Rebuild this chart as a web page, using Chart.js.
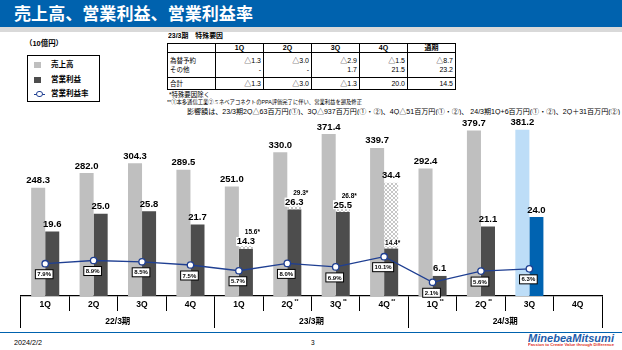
<!DOCTYPE html>
<html><head><meta charset="utf-8">
<script src="https://cdn.jsdelivr.net/npm/chart.js@4.4.1/dist/chart.umd.min.js"></script>
<style>
html,body{margin:0;padding:0;width:622px;height:350px;overflow:hidden;background:#fff;font-family:"Liberation Sans","Noto Sans CJK JP",sans-serif;color:#000;}
#wrap{position:relative;width:622px;height:350px;}
.t{position:absolute;white-space:nowrap;transform-origin:left center;}
#titlebar{position:absolute;left:0;top:0;width:622px;height:27px;background:#0062AE;}
#strip{position:absolute;left:0;top:27px;width:622px;height:5px;background:#D9D9D9;}
#legend{position:absolute;left:26.5px;top:54.5px;width:73px;height:47px;border:1px solid #000;box-sizing:border-box;}
.sw{position:absolute;width:7px;height:6px;}
#tbl{position:absolute;left:167px;top:42.5px;border-collapse:collapse;table-layout:fixed;width:288px;border:1.3px solid #000;font-size:7px;font-family:"Liberation Sans","Noto Sans CJK JP",sans-serif;}
#tbl td{border:1px solid #000;padding:0 2px;overflow:hidden;white-space:nowrap;}
#tbl tr.h td{height:8.6px;line-height:8.6px;text-align:center;font-weight:bold;}
#tbl tr.m td{height:24px;line-height:9px;text-align:right;}
#tbl tr.s td{height:11px;line-height:11px;text-align:right;}
#tbl tr td.lbl{text-align:left;font-size:6.5px;}
#footline{position:absolute;left:0;top:331.5px;width:622px;height:1.6px;background:#0062AE;}
canvas{position:absolute;left:0;top:0;}
</style></head>
<body><div id="wrap">
<div id="titlebar"></div>
<div class="t" style="left:14px;top:0;height:27px;line-height:27px;color:#fff;font:bold 17px 'Noto Sans CJK JP';" data-w="239">売上高、営業利益、営業利益率</div>
<div id="strip"></div>
<div class="t" style="left:25px;top:37px;line-height:12px;font-weight:bold;font-size:8.5px;" data-w="38">（10億円）</div>
<div id="legend">
  <div class="sw" style="left:6px;top:6.5px;background:#BFBFBF;"></div>
  <div class="sw" style="left:6px;top:21.5px;background:#4D4D4D;"></div>
  <div style="position:absolute;left:6px;top:38px;width:11px;height:1.5px;background:#1F3F92;"></div>
  <div style="position:absolute;left:8.5px;top:35.3px;width:4.5px;height:4.5px;border:1.3px solid #1F3F92;border-radius:50%;background:#fff;"></div>
  <div class="t" style="left:23.5px;top:4px;line-height:10px;font-size:7.5px;font-weight:bold;">売上高</div>
  <div class="t" style="left:23.5px;top:19px;line-height:10px;font-size:7.5px;font-weight:bold;">営業利益</div>
  <div class="t" style="left:23.5px;top:33.5px;line-height:10px;font-size:7.5px;font-weight:bold;">営業利益率</div>
</div>
<div class="t" style="left:168px;top:31px;line-height:10px;font-size:7px;font-weight:bold;" data-w="55">23/3期　特殊要因</div>
<table id="tbl"></table>
<div class="t" style="left:169px;top:90px;line-height:10px;font-size:11px;" data-w="41">*特殊要因除く</div>
<div class="t" style="left:166.7px;top:96.7px;line-height:10px;font-size:11px;" data-w="195">**①本多通信工業②ミネベアコネクトのPPA評価完了に伴い、営業利益を遡及修正</div>
<div class="t" style="left:186.7px;top:105.7px;line-height:10px;font-size:11px;" data-w="433">影響額は、23/3期2Q△63百万円(①)、3Q△937百万円(①・②)、4Q△51百万円(①・②)、 24/3期1Q+6百万円(①・②)、2Q＋31百万円(②)</div>
<div id="footline"></div>
<div class="t" style="left:14px;top:338px;line-height:10px;font-size:12px;" data-w="28">2024/2/2</div>
<div class="t" style="left:311px;top:338px;line-height:10px;font-size:6.5px;">3</div>
<div class="t" style="left:527.7px;top:332px;line-height:13px;font-size:12px;font-weight:bold;font-style:italic;color:#1D5CAB;" data-w="86">MinebeaMitsumi</div>
<div class="t" style="left:527.7px;top:341px;line-height:8px;font-size:10px;font-weight:bold;color:#E0301E;" data-w="86">Passion to Create Value through Difference</div>
<canvas id="c" width="622" height="350"></canvas>
</div>
<script>
// ---- data ----
const quarters = ['1Q','2Q','3Q','4Q','1Q','2Q','3Q','4Q','1Q','2Q','3Q','4Q'];
const quarterMarks = ['','','','','','**','**','**','**','**','',''];
const fiscalYears = ['22/3期','23/3期','24/3期'];
const sales = [248.3,282.0,304.3,289.5,251.0,330.0,371.4,339.7,292.4,379.7,381.2,null];
const operatingProfit = [19.6,25.0,25.8,21.7,14.3,26.3,25.5,34.4,6.1,21.1,24.0,null];
const opExSpecial = [null,null,null,null,15.6,29.3,26.8,14.4,null,null,null,null];
const opMargin = [7.9,8.9,8.5,7.5,5.7,8.0,6.9,10.1,2.1,5.6,6.3,null];
const tableCols = ['1Q','2Q','3Q','4Q','通期'];
const fxContract = ['△1.3','△3.0','△2.9','△1.5','△8.7'];
const otherItems = ['-','-','1.7','21.5','23.2'];
const specialTotal = ['△1.3','△3.0','△1.3','20.0','14.5'];

// ---- table ----
(function(){
  const t = document.getElementById('tbl');
  let h = '<colgroup>' + '<col style="width:48px">'.repeat(6) + '</colgroup>';
  h += '<tr class="h"><td></td>' + tableCols.map(c=>'<td>'+c+'</td>').join('') + '</tr>';
  h += '<tr class="m"><td class="lbl">為替予約<br>その他</td>' + fxContract.map((v,i)=>'<td>'+v+'<br>'+otherItems[i]+'</td>').join('') + '</tr>';
  h += '<tr class="s"><td class="lbl">合計</td>' + specialTotal.map(v=>'<td>'+v+'</td>').join('') + '</tr>';
  t.innerHTML = h;
})();

function fitTexts(){
  document.querySelectorAll('[data-w]').forEach(el=>{
    el.style.transform='none';
    const w = el.getBoundingClientRect().width;
    if (w>0) el.style.transform = 'scale(' + (+el.dataset.w / w) + ')';
  });
}
fitTexts();
if (document.fonts && document.fonts.ready) document.fonts.ready.then(fitTexts);

// ---- styles ----
const HL = 10;
const salesColors = sales.map((v,i)=> i===HL ? '#BDDDF7' : '#BFBFBF');
const opColors = operatingProfit.map((v,i)=> i===HL ? '#0063B1' : '#4D4D4D');
function hatchPattern(){
  const c=document.createElement('canvas'); c.width=4; c.height=4;
  const g=c.getContext('2d'); g.fillStyle='#fff'; g.fillRect(0,0,4,4);
  g.fillStyle='#c6c6c6';
  for(let i=0;i<4;i++){ g.fillRect(i,i,1,1); g.fillRect(3-i,i,1,1); }
  return g.createPattern(c,'repeat');
}
const opBase = operatingProfit.map((v,i)=> v==null ? null : (opExSpecial[i]==null ? v : Math.min(v, opExSpecial[i])));
const opSpecial = operatingProfit.map((v,i)=> (v==null || opExSpecial[i]==null) ? null : Math.abs(v - opExSpecial[i]));

const FONT = '"Liberation Sans","Noto Sans CJK JP",sans-serif';

const labelPlugin = {
  id:'valueLabels',
  afterDatasetsDraw(chart){
    const ctx = chart.ctx;
    const lMeta = chart.getDatasetMeta(0), sMeta = chart.getDatasetMeta(1), dMeta = chart.getDatasetMeta(2), hMeta = chart.getDatasetMeta(3);
    ctx.save();
    ctx.textAlign='center'; ctx.textBaseline='alphabetic';
    function txt(s, x, y, size, bg){
      ctx.font = 'bold ' + size + 'px ' + FONT;
      if (bg){ const w = ctx.measureText(s).width; ctx.fillStyle='#fff'; ctx.fillRect(x-w/2-0.5, y-size*0.78, w+1, size*0.95); }
      ctx.fillStyle='#000'; ctx.fillText(s, x, y);
    }
    sales.forEach((v,i)=>{ if(v==null) return; const el=sMeta.data[i]; txt(v.toFixed(1), el.x, el.y-4.5, 9.5, false); });
    operatingProfit.forEach((v,i)=>{
      if(v==null) return;
      const d=dMeta.data[i]; const ex=opExSpecial[i];
      if (ex!=null && ex<v){
        const h=hMeta.data[i];
        txt(v.toFixed(1), h.x, h.y-4.5, 9.5, false);
        txt(ex.toFixed(1)+'*', d.x+1.5, d.y-3.5, 6.5, true);
      } else if (ex!=null){
        txt(v.toFixed(1), d.x, d.y-4.5, 9.5, true);
        txt(ex.toFixed(1)+'*', d.x+6.5, d.y-14.5, 6.5, false);
      } else {
        txt(v.toFixed(1), d.x, d.y-4.5, 9.5, false);
      }
    });
    ctx.font = 'bold 6px ' + FONT;
    opMargin.forEach((v,i)=>{
      if(v==null) return;
      const p=lMeta.data[i]; const s=v.toFixed(1)+'%';
      const w=ctx.measureText(s).width+4; const cx=p.x-1, cy=p.y+10.5;
      ctx.fillStyle='#fff'; ctx.fillRect(cx-w/2, cy-4.5, w, 9);
      ctx.strokeStyle='#000'; ctx.lineWidth=1; ctx.strokeRect(cx-w/2, cy-4.5, w, 9);
      ctx.fillStyle='#000'; ctx.textBaseline='middle'; ctx.fillText(s, cx, cy+0.5); ctx.textBaseline='alphabetic';
    });
    ctx.restore();
  },
  afterDraw(chart){
    const sc = chart.scales.x; const ctx = chart.ctx;
    ctx.save();
    quarterMarks.forEach((m,i)=>{
      if(!m) return;
      ctx.font = 'bold 8.5px ' + FONT;
      const w = ctx.measureText(quarters[i]).width;
      const x = sc.getPixelForTick(i) + w/2 + 1.5;
      ctx.font = 'bold 5px ' + FONT; ctx.fillStyle='#000'; ctx.textAlign='left'; ctx.textBaseline='alphabetic';
      ctx.fillText(m, x, 303);
    });
    ctx.restore();
  }
};

new Chart(document.getElementById('c'), {
  data: {
    labels: quarters,
    datasets: [
      { type:'line', label:'営業利益率', data: opMargin, yAxisID:'yRate', borderColor:'#1F3F92', borderWidth:1.3,
        pointRadius:3.2, pointBorderWidth:1.3, pointBackgroundColor:'#fff', pointBorderColor:'#1F3F92', tension:0, order:0 },
      { type:'bar', label:'売上高', data: sales, yAxisID:'ySales', stack:'s', backgroundColor: salesColors, order:1 },
      { type:'bar', label:'営業利益', data: opBase, yAxisID:'yOP', stack:'o', backgroundColor: opColors, order:1 },
      { type:'bar', label:'特殊要因', data: opSpecial, yAxisID:'yOP', stack:'o', backgroundColor: hatchPattern(), order:2 }
    ]
  },
  options: {
    responsive:false, animation:false, devicePixelRatio:1,
    datasets: { bar: { categoryPercentage:0.58, barPercentage:1 } },
    layout: { padding: { left:21, right:20, top:120, bottom:22 } },
    plugins: { legend:{display:false}, tooltip:{enabled:false} },
    scales: {
      x: { type:'category', stacked:true, offset:true, position:'bottom',
           grid:{ offset:true, drawOnChartArea:false, tickLength:15, color:'#000', lineWidth:1 },
           border:{ display:true, color:'#000', width:1.3 },
           ticks:{ autoSkip:false, maxRotation:0, padding:-11, color:'#000', font:{ size:8.5, weight:'bold', family:FONT } },
           afterFit(s){ s.height = 15; } },
      x2: { type:'category', labels: fiscalYears, offset:true, position:'bottom',
           grid:{ offset:true, drawOnChartArea:false, tickLength:17, color:'#000', lineWidth:1 },
           border:{ display:false },
           ticks:{ autoSkip:false, maxRotation:0, padding:-11, color:'#000', font:{ size:8.5, weight:'bold', family:FONT } },
           afterFit(s){ s.height = 17; } },
      ySales: { display:false, stacked:true, min:0, max:403.7 },
      yOP: { display:false, stacked:true, min:0, max:53.5 },
      yRate: { display:false, min:-2.1875, max:52.8125 }
    }
  },
  plugins:[labelPlugin]
});
</script>
</body></html>
